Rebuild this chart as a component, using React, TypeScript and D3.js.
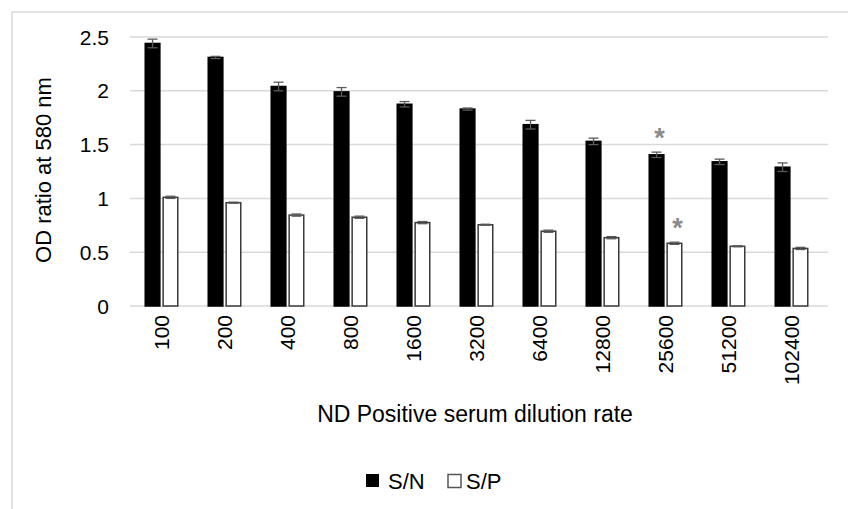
import React from "react";
import * as d3 from "d3";

const categories = ["100", "200", "400", "800", "1600", "3200", "6400", "12800", "25600", "51200", "102400"];
const seriesNames = ["S/N", "S/P"];
const snValues = [2.44, 2.31, 2.04, 1.99, 1.875, 1.83, 1.685, 1.53, 1.405, 1.34, 1.29];
const snErrors = [0.04, 0.01, 0.04, 0.04, 0.025, 0.01, 0.04, 0.03, 0.025, 0.025, 0.04];
const spValues = [1.01, 0.96, 0.845, 0.825, 0.775, 0.755, 0.695, 0.635, 0.583, 0.555, 0.535];
const spErrors = [0.01, 0.005, 0.01, 0.01, 0.01, 0.005, 0.01, 0.01, 0.01, 0.005, 0.01];
const yTicks = [0, 0.5, 1, 1.5, 2, 2.5];
const starCategory = "25600";

const W = 848;
const H = 509;
const FONT = "'Liberation Sans', Arial, sans-serif";

export default function App() {
  const x0 = d3.scaleBand<string>().domain(categories).range([130, 823]).paddingInner(0).paddingOuter(0);
  const bw = x0.bandwidth();
  const x1 = d3.scaleBand<string>().domain(seriesNames).range([bw * 0.23, bw * 0.77]).paddingInner(0.1);
  const y = d3.scaleLinear().domain([0, 2.5]).range([306, 37]);
  const capW = 10;

  const series = [
    { name: "S/N", values: snValues, errors: snErrors, fill: "#000000", stroke: "#000000" },
    { name: "S/P", values: spValues, errors: spErrors, fill: "#ffffff", stroke: "#3a3a3a" },
  ];

  const starIdx = categories.indexOf(starCategory);

  return (
    <div style={{ position: "absolute", left: 0, top: 0 }}>
      <svg width={W} height={H} style={{ display: "block", fontFamily: FONT }}>
        <rect x={0} y={0} width={W} height={H} fill="#ffffff" />
        <rect x={12} y={12} width={W} height={H} fill="none" stroke="#d9d9d9" strokeWidth={1.5} />
        {yTicks.map((t) => (
          <g key={t}>
            <line x1={130} x2={828} y1={y(t)} y2={y(t)} stroke="#d9d9d9" strokeWidth={1.5} />
            <text x={109} y={y(t)} dy="0.36em" textAnchor="end" fontSize={21} fill="#000">
              {t}
            </text>
          </g>
        ))}
        {series.map((s) =>
          categories.map((c, i) => {
            const bx = (x0(c) as number) + (x1(s.name) as number);
            const w = x1.bandwidth();
            const v = s.values[i];
            const e = s.errors[i];
            const cx = bx + w / 2;
            return (
              <g key={s.name + c}>
                <rect
                  x={bx + 0.75}
                  y={y(v)}
                  width={w - 1.5}
                  height={y(0) - y(v)}
                  fill={s.fill}
                  stroke={s.stroke}
                  strokeWidth={1.5}
                />
                <g stroke="#5a5a5a" strokeWidth={1.3}>
                  <line x1={cx} x2={cx} y1={y(v + e)} y2={y(v - e)} />
                  <line x1={cx - capW / 2} x2={cx + capW / 2} y1={y(v + e)} y2={y(v + e)} />
                  <line x1={cx - capW / 2} x2={cx + capW / 2} y1={y(v - e)} y2={y(v - e)} />
                </g>
              </g>
            );
          })
        )}
        {series.map((s) => {
          const bx = (x0(starCategory) as number) + (x1(s.name) as number) + x1.bandwidth() / 2 + 3;
          const top = y(s.values[starIdx] + s.errors[starIdx]) - 20;
          return (
            <text
              key={"star" + s.name}
              x={bx}
              y={top + 15}
              textAnchor="middle"
              fontSize={27}
              fontWeight="bold"
              fill="#8a8a8a"
            >
              *
            </text>
          );
        })}
        {categories.map((c) => {
          const cx = (x0(c) as number) + bw / 2;
          return (
            <text
              key={"lab" + c}
              transform={`translate(${cx},315) rotate(-90)`}
              textAnchor="end"
              dy="0.36em"
              fontSize={21}
              fill="#000"
            >
              {c}
            </text>
          );
        })}
        <text transform="translate(43,170) rotate(-90)" textAnchor="middle" dy="0.36em" fontSize={22} fill="#000">
          OD ratio at 580 nm
        </text>
        <text x={475} y={414} dy="0.36em" textAnchor="middle" fontSize={23} fill="#000">
          ND Positive serum dilution rate
        </text>
        <g>
          <rect x={366} y={474} width={13} height={13} fill="#000" />
          <text x={388} y={481} dy="0.36em" fontSize={22} fill="#000">
            {seriesNames[0]}
          </text>
          <rect x={448} y={474.5} width={13} height={13} fill="#fff" stroke="#555" strokeWidth={1.5} />
          <text x={466} y={481} dy="0.36em" fontSize={22} fill="#000">
            {seriesNames[1]}
          </text>
        </g>
      </svg>
    </div>
  );
}
